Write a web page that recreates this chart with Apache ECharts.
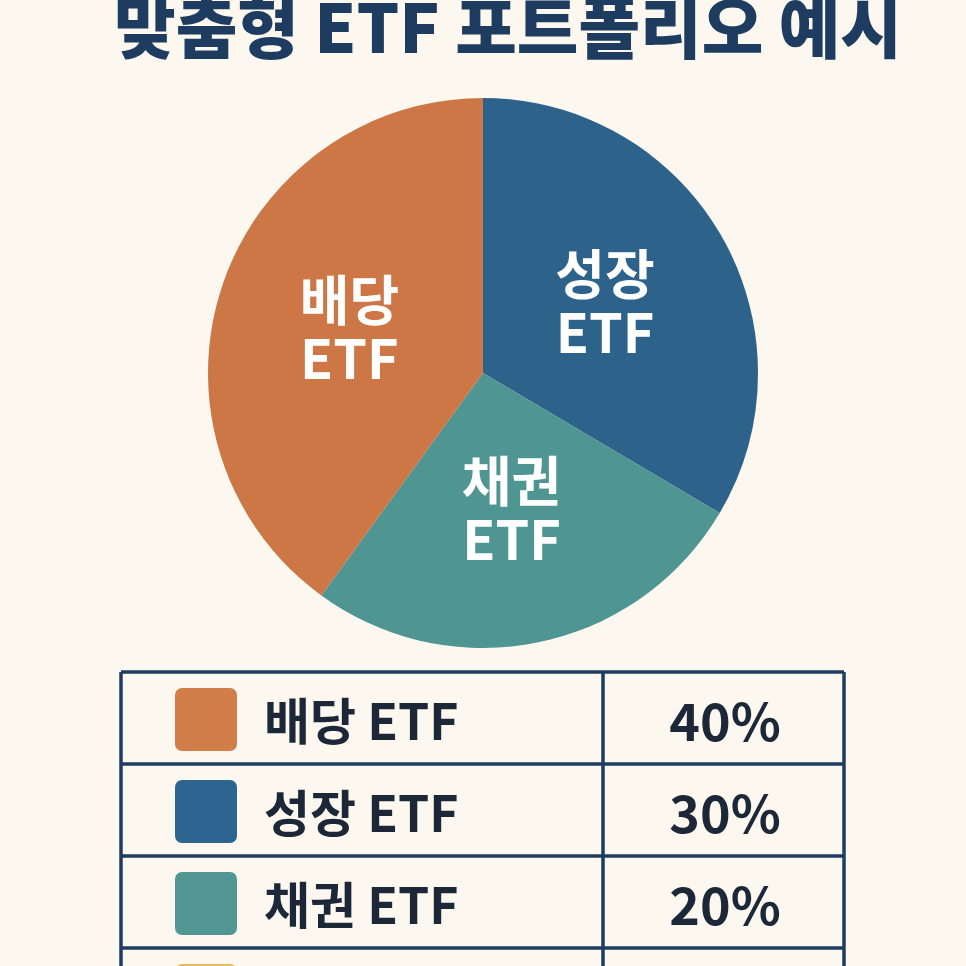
<!DOCTYPE html>
<html>
<head>
<meta charset="utf-8">
<script src="https://cdn.jsdelivr.net/npm/echarts@6/dist/echarts.min.js"></script>
<style>
  html, body { margin: 0; padding: 0; background: #fcf8f0; }
  #chart { width: 966px; height: 966px; }
</style>
</head>
<body>
<div id="chart"></div>
<script>
// 파이 조각 (12시 방향부터 시계 방향)
const pieNames = ["성장 ETF", "채권 ETF", "배당 ETF"];
const pieValues = [33.5, 26.5, 40];
const pieColors = ["#2d628b", "#4f9591", "#cd7746"];

// 표 (위에서부터)
const tableLabels = ["배당 ETF", "성장 ETF", "채권 ETF", ""];
const tablePercents = ["40%", "30%", "20%", ""];
const tableColors = ["#d27e4b", "#2e6590", "#519692", "#e2b860"];

const FONT = '"Noto Sans CJK KR", "Noto Sans", sans-serif';
const NAVY = "#1d3c60";

const chart = echarts.init(document.getElementById("chart"));

// 제목 + 표 그리기
const tbl = { left: 121, right: 844, top: 672, rowH: 92, divX: 603 };
const graphics = [];
graphics.push({
  type: "text",
  style: {
    text: "맞춤형 ETF 포트폴리오 예시",
    x: 508, y: 28,
    align: "center", verticalAlign: "middle",
    font: "900 67px " + FONT,
    fill: NAVY
  }
});
const nRows = tableLabels.length;
const lineStyle = { stroke: NAVY, lineWidth: 3.5 };
// 가로선
for (let i = 0; i <= nRows; i++) {
  const y = tbl.top + i * tbl.rowH;
  graphics.push({ type: "line", shape: { x1: tbl.left, y1: y, x2: tbl.right, y2: y }, style: lineStyle });
}
// 세로선
[tbl.left, tbl.divX, tbl.right].forEach((x) => {
  graphics.push({ type: "line", shape: { x1: x, y1: tbl.top, x2: x, y2: tbl.top + nRows * tbl.rowH }, style: lineStyle });
});
tableLabels.forEach((label, i) => {
  const cy = tbl.top + i * tbl.rowH + tbl.rowH / 2 + 1;
  graphics.push({
    type: "rect",
    shape: { x: 175, y: cy - 31, width: 62, height: 63, r: 7 },
    style: { fill: tableColors[i] }
  });
  if (label) {
    graphics.push({
      type: "text",
      style: { text: label, x: 264, y: cy + 2, align: "left", verticalAlign: "middle", font: "bold 50px " + FONT, fill: "#1c2838" }
    });
  }
  if (tablePercents[i]) {
    graphics.push({
      type: "text",
      style: { text: tablePercents[i], x: 725, y: cy + 2, align: "center", verticalAlign: "middle", font: "bold 52px " + FONT, fill: "#1c2838" }
    });
  }
});

chart.setOption({
  backgroundColor: "#fcf8f0",
  animation: false,
  series: [
    {
      type: "pie",
      center: [483, 373],
      radius: 275,
      startAngle: 90,
      clockwise: true,
      silent: true,
      data: pieNames.map((name, i) => ({
        name: name,
        value: pieValues[i],
        itemStyle: { color: pieColors[i] }
      })),
      label: {
        show: true,
        position: "inside",
        formatter: (p) => p.name.replace(" ", "\n"),
        color: "#ffffff",
        fontFamily: FONT,
        fontWeight: "bold",
        fontSize: 54,
        lineHeight: 58
      },
      labelLine: { show: false }
    }
  ],
  graphic: graphics
});
</script>
</body>
</html>
